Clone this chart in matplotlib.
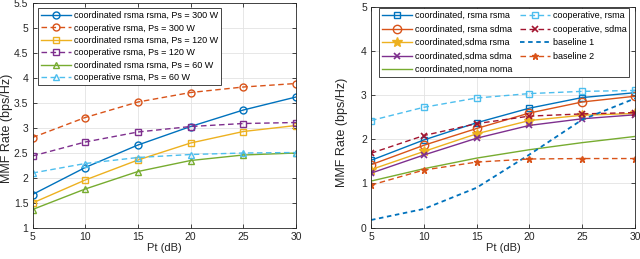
import numpy as np
import matplotlib.pyplot as plt
from matplotlib.ticker import FormatStrFormatter

plt.rcParams['font.family'] = ['Liberation Sans', 'DejaVu Sans']
plt.rcParams['font.size'] = 7.5

# MATLAB default colours
c_blue = '#0072BD'
c_orange = '#D95319'
c_yellow = '#EDB120'
c_purple = '#7E2F8E'
c_green = '#77AC30'
c_cyan = '#4DBEEE'
c_red = '#A2142F'

pt = np.array([5, 10, 15, 20, 25, 30])

# left panel
coord_300 = [1.66, 2.20, 2.65, 3.02, 3.35, 3.61]
coop_300 = [2.80, 3.20, 3.51, 3.70, 3.81, 3.88]
coord_120 = [1.49, 1.95, 2.35, 2.69, 2.92, 3.04]
coop_120 = [2.43, 2.71, 2.91, 3.02, 3.08, 3.10]
coord_60 = [1.36, 1.77, 2.12, 2.34, 2.45, 2.49]
coop_60 = [2.09, 2.28, 2.40, 2.46, 2.49, 2.50]

# right panel
co_rsma_rsma = [1.52, 1.98, 2.37, 2.70, 2.94, 3.05]
co_rsma_sdma = [1.42, 1.86, 2.24, 2.59, 2.84, 2.97]
co_sdma_rsma = [1.31, 1.72, 2.12, 2.42, 2.54, 2.58]
co_sdma_sdma = [1.23, 1.64, 2.02, 2.31, 2.46, 2.55]
co_noma = [1.05, 1.33, 1.57, 1.76, 1.92, 2.06]
coop_rsma = [2.42, 2.72, 2.93, 3.03, 3.08, 3.10]
coop_sdma = [1.68, 2.08, 2.35, 2.52, 2.57, 2.60]
base1 = [0.17, 0.42, 0.90, 1.65, 2.44, 2.92]
base2 = [0.96, 1.30, 1.48, 1.55, 1.56, 1.56]

fig = plt.figure(figsize=(6.4, 2.59), dpi=100)
ax1 = fig.add_axes([0.0508, 0.1216, 0.4117, 0.8687])
ax2 = fig.add_axes([0.5797, 0.1216, 0.4125, 0.8533])

lw = 1.0
ms = 5
dash = (0, (4, 2.5))
legfs = 6.5


def style(ax):
    ax.grid(True, color='#e3e3e3', linewidth=0.6)
    ax.set_axisbelow(True)
    ax.tick_params(direction='in', top=True, right=True, length=3,
                   width=0.6, colors='#262626', labelsize=7.5, pad=3)
    for s in ax.spines.values():
        s.set_linewidth(0.6)
        s.set_color('#262626')
    ax.set_xlim(5, 30)
    ax.set_xticks(pt)
    ax.set_xlabel('Pt (dB)', fontsize=8, labelpad=1, color='#262626')
    ax.set_ylabel('MMF Rate (bps/Hz)', fontsize=9, color='#262626')


ax1.plot(pt, coord_300, '-o', color=c_blue, lw=lw, ms=ms, mfc='none',
         label='coordinated rsma rsma, Ps = 300 W')
ax1.plot(pt, coop_300, 'o', ls=dash, color=c_orange, lw=lw, ms=ms, mfc='none',
         label='cooperative rsma, Ps = 300 W')
ax1.plot(pt, coord_120, '-s', color=c_yellow, lw=lw, ms=ms - 0.5, mfc='none',
         label='coordinated rsma rsma, Ps = 120 W')
ax1.plot(pt, coop_120, 's', ls=dash, color=c_purple, lw=lw, ms=ms - 0.5, mfc='none',
         label='cooperative rsma, Ps = 120 W')
ax1.plot(pt, coord_60, '-^', color=c_green, lw=lw, ms=ms, mfc='none',
         label='coordinated rsma rsma, Ps = 60 W')
ax1.plot(pt, coop_60, '^', ls=dash, color=c_cyan, lw=lw, ms=ms, mfc='none',
         label='cooperative rsma, Ps = 60 W')
style(ax1)
ax1.set_ylim(1, 5.5)
ax1.set_yticks(np.arange(1, 5.51, 0.5))
ax1.yaxis.set_major_formatter(FormatStrFormatter('%g'))
ax1.yaxis.set_label_coords(-0.074, 0.44)
leg1 = ax1.legend(loc='upper left', bbox_to_anchor=(0.021, 0.976), fontsize=legfs,
                  handlelength=3.3, handletextpad=0.3, labelspacing=0.38,
                  borderpad=0.35, borderaxespad=0, fancybox=False,
                  edgecolor='#262626', framealpha=1)
leg1.get_frame().set_linewidth(0.6)

ax2.plot(pt, co_rsma_rsma, '-s', color=c_blue, lw=lw, ms=ms - 0.5, mfc='none',
         label='coordinated, rsma rsma')
ax2.plot(pt, co_rsma_sdma, '-o', color=c_orange, lw=lw, ms=ms + 1, mfc='none',
         label='coordinated, rsma sdma')
ax2.plot(pt, co_sdma_rsma, '-*', color=c_yellow, lw=lw, ms=ms + 2,
         label='coordinated,sdma rsma')
ax2.plot(pt, co_sdma_sdma, '-x', color=c_purple, lw=lw, ms=ms - 1, mew=1.2,
         label='coordinated,sdma sdma')
ax2.plot(pt, co_noma, '-', color=c_green, lw=lw,
         label='coordinated,noma noma')
ax2.plot(pt, coop_rsma, 's', ls=dash, color=c_cyan, lw=lw, ms=ms - 0.5, mfc='none',
         label='cooperative, rsma')
ax2.plot(pt, coop_sdma, 'x', ls=dash, color=c_red, lw=lw, ms=ms - 1, mew=1.2,
         label='cooperative, sdma')
ax2.plot(pt, base1, ls=(0, (2.5, 2)), color=c_blue, lw=1.3,
         label='baseline 1')
ax2.plot(pt, base2, '*', ls=dash, color=c_orange, lw=lw, ms=ms,
         label='baseline 2')
style(ax2)
ax2.set_ylim(0, 5)
ax2.set_yticks(np.arange(0, 5.1, 1))
ax2.yaxis.set_label_coords(-0.087, 0.43)
leg2 = ax2.legend(loc='upper left', bbox_to_anchor=(0.03, 0.993), ncol=2,
                  fontsize=legfs, handlelength=3.3, handletextpad=0.3,
                  labelspacing=0.5, columnspacing=0.9, borderpad=0.35,
                  borderaxespad=0, fancybox=False, edgecolor='#262626',
                  framealpha=1)
leg2.get_frame().set_linewidth(0.6)

fig.savefig('out.png', dpi=100)
